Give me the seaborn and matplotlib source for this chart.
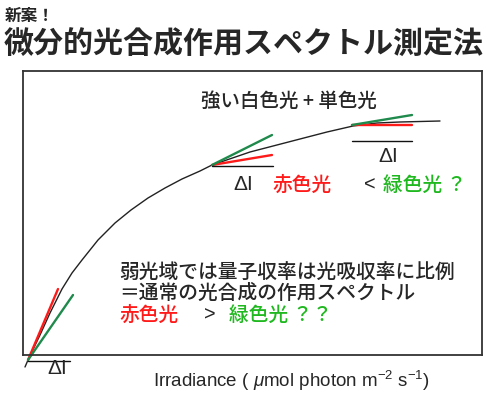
import matplotlib
matplotlib.use('Agg')
import matplotlib.pyplot as plt
import seaborn as sns
import pandas as pd

# light-response curve (axis units: irradiance, photosynthesis)
curve_x = [2, 5, 17, 27, 39, 49, 59, 75, 92, 108, 125, 142, 159, 177, 189,
           227, 277, 304, 330, 354, 377, 417]
curve_y = [-12, -5, 20, 42, 66, 82, 95, 115, 132, 145, 157, 167, 176, 184, 190,
           203, 216, 223, 229, 232, 233, 234]

# tangent / delta-I segments: name, start, end
seg_names = ['low_red', 'low_green', 'low_dI',
             'mid_red', 'mid_green', 'mid_dI',
             'top_red', 'top_green', 'top_dI']
seg_x0 = [5, 5, 5, 189, 189, 189, 329, 329, 329]
seg_y0 = [-5, -5, -6, 190, 190, 189, 230, 230, 214]
seg_x1 = [35, 50, 47, 249, 249, 250, 389, 389, 389]
seg_y1 = [66, 60, -6, 200, 220, 189, 230, 240, 214]

RED = '#ff1a1a'
GREEN_LINE = '#1f8a4c'
GREEN_TEXT = '#1fb81f'
seg_colors = {n: (RED if 'red' in n else GREEN_LINE if 'green' in n else '#111111')
              for n in seg_names}

sns.set_style('white')
plt.rcParams['font.family'] = ['Noto Sans CJK JP', 'DejaVu Sans']

fig = plt.figure(figsize=(5, 3.99), dpi=100)
W, H = 500, 399
ax = fig.add_axes([23 / W, 1 - 355 / H, (482 - 23) / W, (355 - 71) / H])

curve = pd.DataFrame({'x': curve_x, 'y': curve_y})
sns.lineplot(data=curve, x='x', y='y', ax=ax, color='#222222', lw=1.0,
             sort=False, estimator=None, clip_on=False)

segs = pd.DataFrame({
    'seg': seg_names * 2,
    'x': seg_x0 + seg_x1,
    'y': seg_y0 + seg_y1,
})
sns.lineplot(data=segs, x='x', y='y', hue='seg', palette=seg_colors, ax=ax,
             units='seg', estimator=None, sort=False, legend=False,
             lw=1.7, clip_on=False)
for line in ax.lines[1:]:
    if line.get_color() == '#111111':
        line.set_linewidth(1.0)

ax.set_xlim(0, 459)
ax.set_ylim(0, 284)
ax.set_xticks([])
ax.set_yticks([])
ax.set_xlabel('')
ax.set_ylabel('')
for sp in ax.spines.values():
    sp.set_color('#333333')
    sp.set_linewidth(1.3)


def txt(x, y, s, **kw):
    kw.setdefault('va', 'center')
    kw.setdefault('ha', 'left')
    fig.text(x / W, 1 - y / H, s, **kw)


txt(5, 16, '新案！', fontsize=12, fontweight='bold')
txt(4, 45, '微分的光合成作用スペクトル測定法', fontsize=21.6, fontweight='bold')

txt(201, 101, '強い白色光 + 単色光', fontsize=14, fontweight='medium')

lat = ['Liberation Sans', 'DejaVu Sans']
txt(243, 184, 'ΔI', fontsize=15, family=lat, ha='center')
txt(388, 156, 'ΔI', fontsize=15, family=lat, ha='center')
txt(57, 368, 'ΔI', fontsize=15, family=lat, ha='center')

body = dict(fontsize=14.2, fontweight='medium')
txt(272, 185, '赤色光', color=RED, **body)
txt(364, 185, '<', family=lat, **body)
txt(383, 185, '緑色光 ？', color=GREEN_TEXT, **body)

txt(119, 272, '弱光域では量子収率は光吸収率に比例', **body)
txt(119, 293, '＝通常の光合成の作用スペクトル', **body)
txt(119, 315, '赤色光', color=RED, **body)
txt(204, 315, '>', family=lat, **body)
txt(229, 315, '緑色光 ？？', color=GREEN_TEXT, **body)

plt.rcParams['mathtext.fontset'] = 'custom'
plt.rcParams['mathtext.rm'] = 'Liberation Sans'
plt.rcParams['mathtext.it'] = 'Liberation Sans:italic'
txt(291, 381, r'Irradiance ( $\mathit{\mu}$mol photon m$^{\mathrm{-2}}$ s$^{\mathrm{-1}}$)',
    fontsize=13.5, family=lat, ha='center')

fig.savefig('out.png', dpi=100, facecolor='white')
